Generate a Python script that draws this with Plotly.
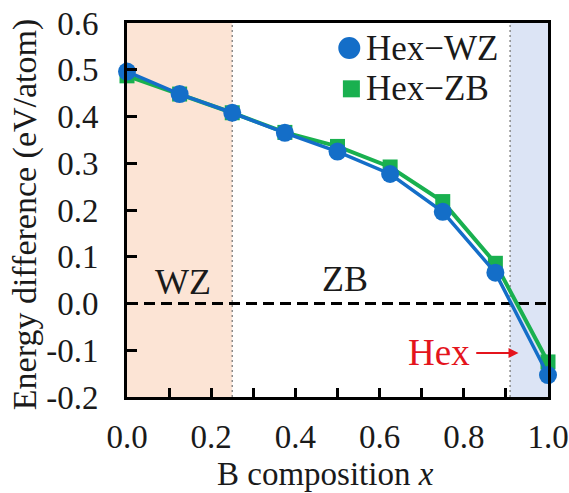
import plotly.graph_objects as go

# B composition and hexagonal-phase energy differences (eV/atom)
composition = [0.0, 0.125, 0.25, 0.375, 0.5, 0.625, 0.75, 0.875, 1.0]
hex_wz = [0.496, 0.448, 0.408, 0.365, 0.325, 0.277, 0.196, 0.066, -0.153]
hex_zb = [0.487, 0.448, 0.408, 0.366, 0.336, 0.292, 0.218, 0.086, -0.125]

series_names = ["Hex\u2212WZ", "Hex\u2212ZB"]

# phase boundaries
wz_zb_boundary = 0.25
zb_hex_boundary = 0.91

x_ticks = [0.0, 0.1, 0.2, 0.3, 0.4, 0.5, 0.6, 0.7, 0.8, 0.9, 1.0]
x_labels = ["0.0", "", "0.2", "", "0.4", "", "0.6", "", "0.8", "", "1.0"]
y_ticks = [-0.2, -0.1, 0.0, 0.1, 0.2, 0.3, 0.4, 0.5, 0.6]
y_labels = ["-0.2", "-0.1", "0.0", "0.1", "0.2", "0.3", "0.4", "0.5", "0.6"]

BLUE = "#146ec8"
GREEN = "#19b04f"
RED = "#e4141c"
INK = "#1a1a1a"
FONT = "Liberation Serif, Times New Roman, serif"

fig = go.Figure()

# data traces (ZB underneath, WZ on top)
fig.add_trace(go.Scatter(
    x=composition, y=hex_zb, mode="lines+markers", name=series_names[1],
    showlegend=False, cliponaxis=False,
    line=dict(color=GREEN, width=4),
    marker=dict(symbol="square", size=15, color=GREEN),
))
fig.add_trace(go.Scatter(
    x=composition, y=hex_wz, mode="lines+markers", name=series_names[0],
    showlegend=False, cliponaxis=False,
    line=dict(color=BLUE, width=3.5),
    marker=dict(symbol="circle", size=18, color=BLUE),
))

# shaded phase regions and their boundaries
fig.add_shape(type="rect", xref="x", yref="y", x0=0, x1=wz_zb_boundary,
              y0=-0.2, y1=0.6, fillcolor="#fce4d5", line_width=0, layer="below")
fig.add_shape(type="rect", xref="x", yref="y", x0=zb_hex_boundary, x1=1.0,
              y0=-0.2, y1=0.6, fillcolor="#dce4f5", line_width=0, layer="below")
for xb in (wz_zb_boundary, zb_hex_boundary):
    fig.add_shape(type="line", xref="x", yref="y", x0=xb, x1=xb, y0=-0.2, y1=0.6,
                  line=dict(color="#8a8a8a", width=1.5, dash="2px,3px"), layer="below")
# zero reference line
fig.add_shape(type="line", xref="x", yref="y", x0=0, x1=1.0, y0=0, y1=0,
              line=dict(color="black", width=3, dash="11px,6px"), layer="below")

# legend: swatches plus labels in the upper right
fig.add_shape(type="circle", xref="paper", yref="paper",
              xsizemode="pixel", ysizemode="pixel", xanchor=0.528, yanchor=0.933,
              x0=-11, x1=11, y0=-11, y1=11, fillcolor=BLUE, line_width=0)
fig.add_shape(type="rect", xref="paper", yref="paper",
              xsizemode="pixel", ysizemode="pixel", xanchor=0.533, yanchor=0.824,
              x0=-8.5, x1=8.5, y0=-8.5, y1=8.5, fillcolor=GREEN, line_width=0)
fig.add_annotation(xref="paper", yref="paper", x=0.564, y=0.933, text=series_names[0],
                   xanchor="left", yanchor="middle", showarrow=False,
                   font=dict(family=FONT, size=35, color=INK))
fig.add_annotation(xref="paper", yref="paper", x=0.564, y=0.824, text=series_names[1],
                   xanchor="left", yanchor="middle", showarrow=False,
                   font=dict(family=FONT, size=35, color=INK))

# region labels
fig.add_annotation(x=0.132, y=0.045, text="WZ", showarrow=False,
                   font=dict(family=FONT, size=36, color=INK))
fig.add_annotation(x=0.518, y=0.052, text="ZB", showarrow=False,
                   font=dict(family=FONT, size=36, color=INK))
fig.add_annotation(x=0.741, y=-0.104, text="Hex", showarrow=False,
                   font=dict(family=FONT, size=37, color=RED))
fig.add_annotation(x=0.93, y=-0.106, ax=0.826, ay=-0.106, xref="x", yref="y",
                   axref="x", ayref="y", text="", showarrow=True,
                   arrowhead=2, arrowsize=1, arrowwidth=2, arrowcolor=RED)

# axis titles
fig.add_annotation(xref="paper", yref="paper", x=0.471, y=-0.2057,
                   text="B composition <i>x</i>", showarrow=False,
                   xanchor="center", yanchor="middle",
                   font=dict(family=FONT, size=33, color=INK))
fig.add_annotation(xref="paper", yref="paper", x=-0.2416, y=0.487,
                   text="Energy difference (eV/atom)", showarrow=False,
                   textangle=-90, xanchor="center", yanchor="middle",
                   font=dict(family=FONT, size=34, color=INK))

fig.update_layout(
    width=569, height=493,
    margin=dict(l=127, r=21, t=23, b=96, autoexpand=False),
    paper_bgcolor="white", plot_bgcolor="white",
    font=dict(family=FONT, size=33, color=INK),
    showlegend=False,
)
fig.update_xaxes(
    range=[0, 1.0], tickvals=x_ticks, ticktext=x_labels, automargin=False,
    ticks="inside", ticklen=9, tickwidth=2.5, tickcolor="black",
    showline=True, linecolor="black", linewidth=3, mirror=True,
    showgrid=False, zeroline=False, ticklabelstandoff=8,
)
fig.update_yaxes(
    range=[-0.2, 0.6], tickvals=y_ticks, ticktext=y_labels, automargin=False,
    ticks="inside", ticklen=10, tickwidth=2.5, tickcolor="black",
    showline=True, linecolor="black", linewidth=3, mirror=True,
    showgrid=False, zeroline=False, ticklabelstandoff=19,
)

fig.write_html("out.html")
